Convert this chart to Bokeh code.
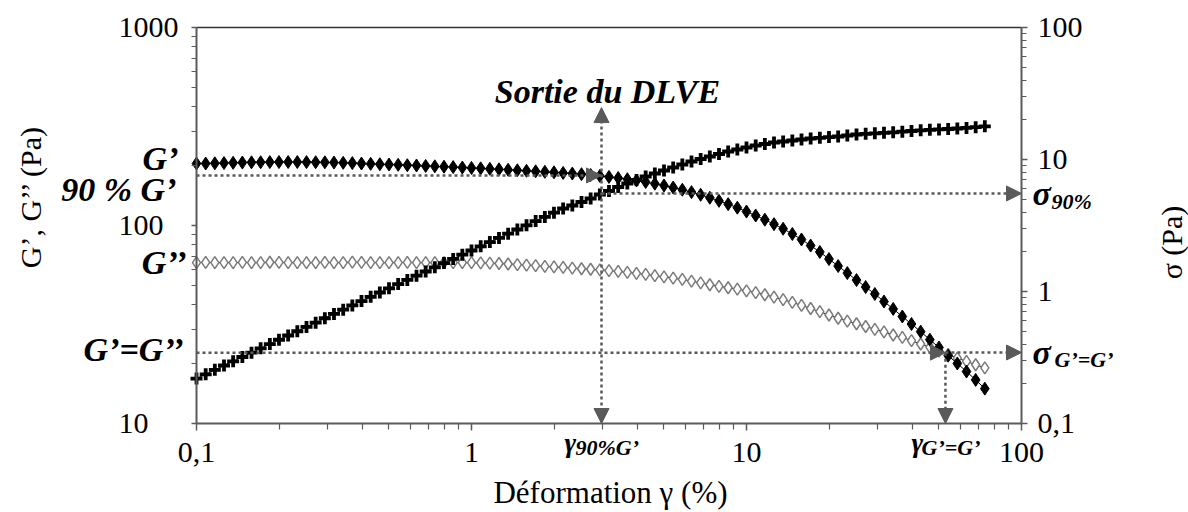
import math
from bokeh.plotting import figure
from bokeh.models import (ColumnDataSource, Range1d, LogScale, LogAxis, FixedTicker,
                          CustomJSTickFormatter, Label, Arrow, NormalHead)
from bokeh.embed import file_html
from bokeh.resources import INLINE

# ---------------- data ----------------
strain = [0.1, 0.108, 0.1166, 0.1259, 0.1359, 0.1468, 0.1585, 0.1711, 0.1848, 0.1995,
          0.2154, 0.2326, 0.2512, 0.2712, 0.2929, 0.3162, 0.3415, 0.3687, 0.3981, 0.4299,
          0.4642, 0.5012, 0.5412, 0.5843, 0.631, 0.6813, 0.7356, 0.7943, 0.8577, 0.9261,
          1.0, 1.08, 1.166, 1.259, 1.359, 1.468, 1.585, 1.711, 1.848, 1.995,
          2.154, 2.326, 2.512, 2.712, 2.929, 3.162, 3.415, 3.687, 3.981, 4.299,
          4.642, 5.012, 5.412, 5.843, 6.31, 6.813, 7.356, 7.943, 8.577, 9.261,
          10.0, 10.8, 11.66, 12.59, 13.59, 14.68, 15.85, 17.11, 18.48, 19.95,
          21.54, 23.26, 25.12, 27.12, 29.29, 31.62, 34.15, 36.87, 39.81, 42.99,
          46.42, 50.12, 54.12, 58.43, 63.1, 68.13, 73.56]

g_storage = [205.6, 205.6, 206.1, 206.8, 207.3, 208.0, 208.5, 208.7, 209.0, 209.2,
             209.2, 209.2, 209.0, 208.7, 208.5, 208.0, 207.3, 206.6, 205.6, 204.9,
             203.9, 203.2, 202.5, 201.6, 200.9, 199.9, 199.0, 198.1, 197.2, 196.3,
             195.3, 194.4, 193.3, 192.2, 191.1, 190.0, 188.9, 187.8, 186.7, 185.6,
             184.3, 183.0, 181.6, 179.9, 178.0, 176.0, 173.7, 171.3, 168.7, 165.8,
             162.6, 159.2, 155.5, 151.6, 147.4, 142.9, 138.1, 133.2, 128.2, 123.0,
             117.6, 112.3, 107.0, 101.6, 96.3, 90.6, 85.0, 79.2, 73.5, 67.7,
             62.4, 57.5, 53.0, 48.9, 45.1, 41.3, 37.9, 34.7, 31.8, 29.1,
             26.5, 24.2, 22.0, 20.1, 18.3, 16.6, 15.0]

g_loss = [65.0, 65.1, 65.0, 64.9, 65.0, 65.1, 65.0, 65.0, 65.2, 65.1,
          65.0, 65.0, 64.9, 65.0, 65.1, 65.0, 65.0, 65.3, 65.1, 65.0,
          65.0, 64.9, 65.0, 65.1, 65.0, 65.0, 64.9, 65.0, 65.0, 64.9,
          64.9, 64.7, 64.5, 64.3, 63.9, 63.5, 63.1, 62.7, 62.2, 61.8,
          61.4, 60.9, 60.5, 60.1, 59.7, 59.2, 58.6, 58.0, 57.3, 56.6,
          55.8, 55.0, 54.2, 53.4, 52.4, 51.3, 50.2, 49.3, 48.5, 47.7,
          46.8, 45.8, 44.7, 43.5, 42.2, 40.9, 39.5, 38.1, 36.7, 35.3,
          34.0, 32.9, 31.9, 30.9, 29.9, 29.0, 28.0, 27.2, 26.2, 25.2,
          24.3, 23.2, 22.3, 21.4, 20.6, 19.8, 19.1]

stress = [0.219, 0.236, 0.255, 0.275, 0.296, 0.319, 0.344, 0.371, 0.400, 0.431,
          0.464, 0.500, 0.539, 0.581, 0.627, 0.676, 0.728, 0.785, 0.846, 0.912,
          0.983, 1.057, 1.138, 1.224, 1.317, 1.418, 1.525, 1.641, 1.766, 1.900,
          2.045, 2.200, 2.367, 2.547, 2.740, 2.949, 3.173, 3.414, 3.673, 3.954,
          4.255, 4.482, 4.764, 5.063, 5.430, 5.771, 6.190, 6.579, 6.992, 7.432,
          7.831, 8.254, 8.698, 9.166, 9.656, 10.09, 10.54, 11.01, 11.50, 11.91,
          12.33, 12.77, 13.11, 13.45, 13.69, 13.93, 14.18, 14.43, 14.60, 14.78,
          14.94, 15.20, 15.47, 15.65, 15.79, 15.93, 16.07, 16.24, 16.44, 16.64,
          16.79, 16.90, 17.02, 17.17, 17.35, 17.56, 17.84]

x_ticks = [0.1, 1, 10, 100]
y_left_ticks = [10, 100, 1000]
y_left_labels = ["10", "100", "1000"]
y_right_ticks = [0.1, 1, 10, 100]

# characteristic points
gamma_90 = 2.97        # strain at 90 % G'
g_90 = 179.0           # 90 % G' level (Pa)
sigma_90 = 5.53        # stress at 90 % G'
gamma_cross = 52.9     # strain at G' = G''
g_cross = 22.8         # modulus at crossover
sigma_cross = 0.345    # stress at crossover
arrow_top = 394.0      # top of "Sortie du DLVE" arrow (left-axis units)

# ---------------- geometry (pixel layout of the page) ----------------
W, H = 1188, 512
X0, DEC_X = 196.0, 275.0     # pixel of x=0.1, pixels per decade
Y0, DEC_L = 27.0, 198.0      # pixel of G=1000, pixels per decade (left)
DEC_R = 132.0                # pixels per decade (right, top = 100)

def xd(px):
    return 10 ** (-1 + (px - X0) / DEC_X)

def yl(py):
    return 10 ** (3 - (py - Y0) / DEC_L)

def yr(py):
    return 10 ** (2 - (py - Y0) / DEC_R)

SERIF = "Liberation Serif"
DARK = "#5a5a5a"

p = figure(width=W, height=H, x_axis_type="log", y_axis_type="log",
           x_axis_location=None, y_axis_location=None,
           x_range=Range1d(xd(0), xd(W)), y_range=Range1d(yl(H), yl(0)),
           output_backend="svg", toolbar_location=None,
           min_border=0, min_border_left=0, min_border_right=0,
           min_border_top=0, min_border_bottom=0)
p.grid.visible = False
p.outline_line_color = None
p.background_fill_color = "white"
p.border_fill_color = "white"

p.extra_y_ranges = {"sigma": Range1d(yr(H), yr(0))}
p.extra_y_scales = {"sigma": LogScale()}

fmt = CustomJSTickFormatter(code="return String(tick).replace('.', ',');")
blank = CustomJSTickFormatter(code="return '';")

def minor_for(ticks):
    out = []
    for t in ticks[:-1]:
        out += [t * k for k in range(2, 10)]
    return out

def style_axis(ax):
    ax.axis_line_color = DARK
    ax.axis_line_width = 2
    ax.major_tick_line_color = DARK
    ax.minor_tick_line_color = DARK
    ax.major_tick_line_width = 1.5
    ax.minor_tick_line_width = 1.2
    ax.major_tick_in = 0
    ax.minor_tick_in = 0
    ax.major_tick_out = 7
    ax.minor_tick_out = 6
    ax.major_label_text_font = SERIF
    ax.major_label_text_font_size = "30px"
    ax.major_label_text_color = "black"

# bottom axis (strain)
xa = LogAxis(fixed_location=10, bounds=(0.1, 100), formatter=fmt,
             ticker=FixedTicker(ticks=x_ticks, minor_ticks=minor_for(x_ticks)))
style_axis(xa)
xa.major_label_standoff = 12
p.add_layout(xa, "below")

# left axis (moduli)
ya = LogAxis(fixed_location=0.1, bounds=(10, 1000), formatter=blank,
             ticker=FixedTicker(ticks=y_left_ticks, minor_ticks=minor_for(y_left_ticks)))
style_axis(ya)
ya.major_tick_out = 5
ya.minor_tick_out = 5
p.add_layout(ya, "left")

# right axis (stress)
yra = LogAxis(y_range_name="sigma", fixed_location=100, bounds=(0.1, 100), formatter=fmt,
              ticker=FixedTicker(ticks=y_right_ticks, minor_ticks=minor_for(y_right_ticks)))
style_axis(yra)
yra.major_tick_out = 6
yra.minor_tick_out = 5
yra.major_label_standoff = 10
p.add_layout(yra, "right")

# top frame line
ta = LogAxis(fixed_location=1000, bounds=(0.1, 100), formatter=blank,
             ticker=FixedTicker(ticks=[]))
ta.axis_line_color = "#333333"
ta.axis_line_width = 1.5
ta.major_tick_line_color = None
ta.minor_tick_line_color = None
p.add_layout(ta, "above")

src = ColumnDataSource(dict(strain=strain, gp=g_storage, gpp=g_loss, sig=stress))

# G''
p.line("strain", "gpp", source=src, line_color="#222222", line_width=1)
p.scatter("strain", "gpp", source=src, marker="diamond", size=12,
          fill_color="white", line_color="#7a7a7a", line_width=1.5)
# G'
p.line("strain", "gp", source=src, line_color="black", line_width=1)
p.scatter("strain", "gp", source=src, marker="diamond", size=13,
          fill_color="black", line_color="black", line_width=1)
# stress
p.line("strain", "sig", source=src, y_range_name="sigma", line_color="black", line_width=1)
p.scatter("strain", "sig", source=src, y_range_name="sigma", marker="cross", size=12,
          line_color="black", line_width=3.8)

# ---------------- dotted arrows ----------------
def head():
    return NormalHead(size=15, fill_color=DARK, line_color=DARK, line_width=1)

arrow_kw = dict(line_color=DARK, line_width=2.5, line_dash="3 3")

p.add_layout(Arrow(x_start=0.1, y_start=g_90, x_end=gamma_90, y_end=g_90,
                   end=head(), **arrow_kw))
p.add_layout(Arrow(x_start=gamma_90, y_start=10, x_end=gamma_90, y_end=arrow_top,
                   start=head(), end=head(), **arrow_kw))
p.add_layout(Arrow(x_start=gamma_90, y_start=sigma_90, x_end=100, y_end=sigma_90,
                   y_range_name="sigma", end=head(), **arrow_kw))
p.add_layout(Arrow(x_start=0.1, y_start=g_cross, x_end=gamma_cross, y_end=g_cross,
                   end=head(), **arrow_kw))
p.add_layout(Arrow(x_start=gamma_cross, y_start=sigma_cross, x_end=100, y_end=sigma_cross,
                   y_range_name="sigma", end=head(), **arrow_kw))
p.add_layout(Arrow(x_start=gamma_cross, y_start=g_cross, x_end=gamma_cross, y_end=10,
                   end=head(), **arrow_kw))

# ---------------- text ----------------
def lab(x, y, text, size, style="bold italic", align="left", angle=0.0):
    p.add_layout(Label(x=x, y=y, text=text, text_font=SERIF, text_font_size=size,
                       text_font_style=style, text_align=align, text_baseline="middle",
                       text_color="black", angle=angle))

# left tick labels (left-aligned, as in the original)
for t, s in zip(y_left_ticks, y_left_labels):
    lab(xd(118), t, s, "30px", style="normal")

lab(xd(178), yl(158), "G’", "34px", align="right")
lab(xd(176), yl(189), "90 % G’", "34px", align="right")
lab(xd(186), yl(262), "G’’", "34px", align="right")
lab(xd(183), yl(349), "G’=G’’", "34px", align="right")

lab(xd(1032), yl(193), "σ", "34px")
lab(xd(1051), yl(201), "90%", "22px")
lab(xd(1032), yl(352), "σ", "34px")
lab(xd(1054), yl(359), "G’=G’", "22px")

lab(xd(564), yl(442), "γ", "28px")
lab(xd(575), yl(447), "90%G’", "22px")
lab(xd(911), yl(442), "γ", "28px")
lab(xd(921), yl(447), "G’=G’", "22px")

lab(xd(607), yl(91), "Sortie du DLVE", "34px", align="center")

lab(xd(610), yl(492), "Déformation γ (%)", "31px", style="normal", align="center")
lab(xd(30), yl(196), "G’, G’’ (Pa)", "30px", style="normal", align="center", angle=math.pi / 2)
lab(xd(1171), yl(242), "σ (Pa)", "30px", style="normal", align="center", angle=math.pi / 2)

open("out.html", "w").write(file_html(p, INLINE))
